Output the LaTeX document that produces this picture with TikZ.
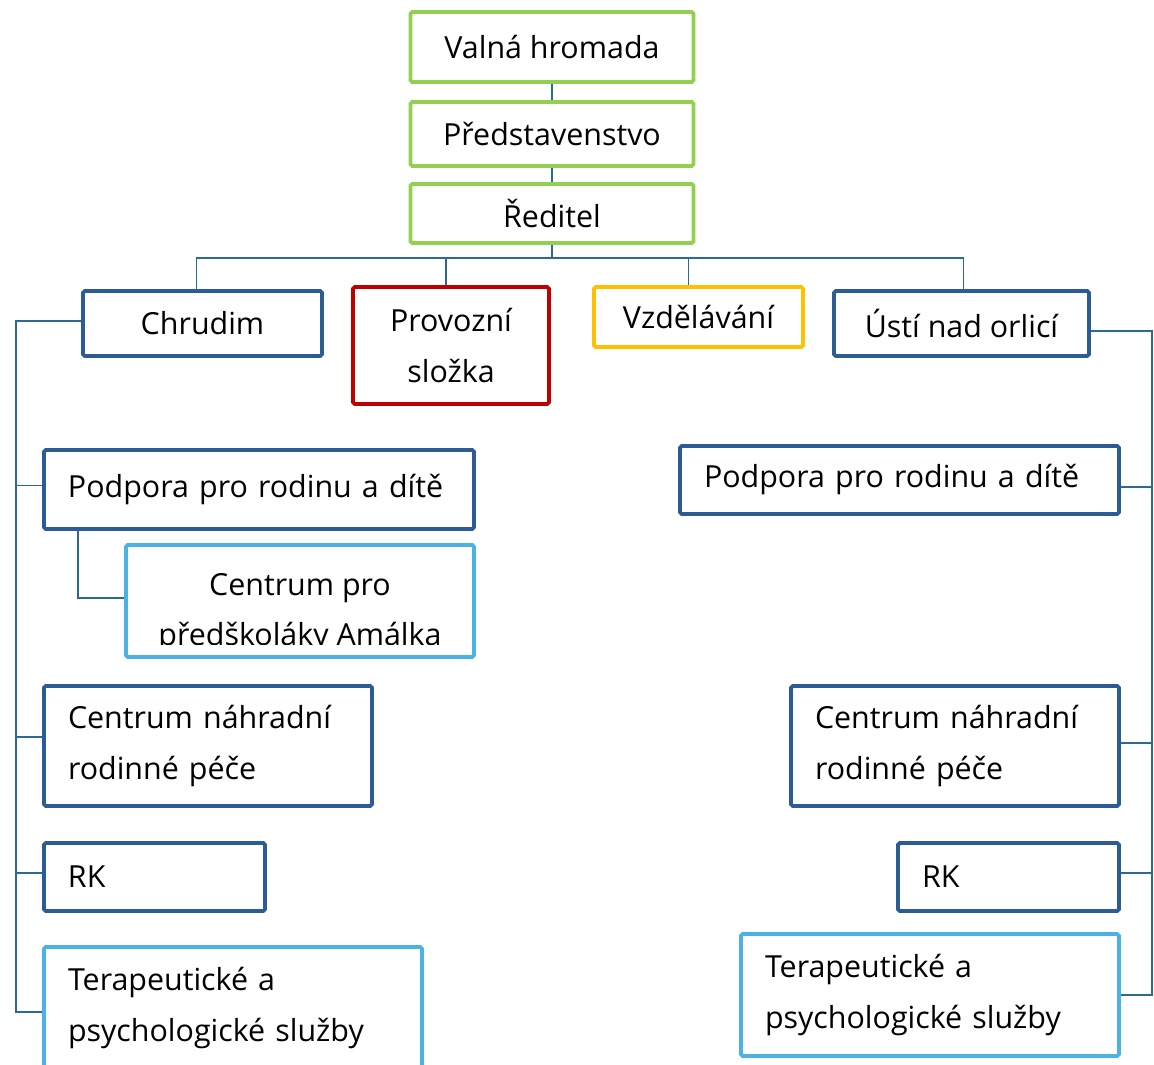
\documentclass[tikz,border=0pt]{standalone}
\usepackage{fontspec}
\setmainfont{Open Sans}
\usetikzlibrary{positioning}
\definecolor{grnline}{HTML}{92D050}
\definecolor{dkblue}{HTML}{2B5C96}
\definecolor{ltblue}{HTML}{4BB2E4}
\definecolor{redline}{HTML}{C00000}
\definecolor{yelline}{HTML}{FFC000}
\definecolor{linkblue}{HTML}{2A6A94}

\begin{document}
\begin{tikzpicture}[
      /tikz/font=\fontsize{17.3}{28.5}\selectfont,
      box/.style={draw, rounded corners=1pt, line width=2.2pt, fill=white, align=center, inner sep=0pt},
      topbox/.style={box, draw=grnline, minimum width=5.66cm},
      leftbox/.style={box, align=left, inner xsep=0.48cm},
      link/.style={draw=linkblue, line width=0.85pt},
    ]
    \useasboundingbox (0,0) rectangle (23.08,-21.30);

    % top of the organisation
    \node[topbox, minimum height=1.40cm] (valna) at (11.04,-0.94) {Valná hromada};
    \node[topbox, minimum height=1.28cm] (pred) at (11.04,-2.68) {Představenstvo};
    \node[topbox, minimum height=1.18cm] (reditel) at (11.04,-4.27) {Ředitel};

    % units
    \node[box, draw=dkblue, minimum width=4.78cm, minimum height=1.30cm] (chrudim) at (4.05,-6.47) {Chrudim};
    \node[box, draw=redline, minimum width=3.92cm, minimum height=2.34cm] (provoz) at (9.02,-6.91) {Provozní\\složka};
    \node[box, draw=yelline, minimum width=4.18cm, minimum height=1.20cm] (vzdel) at (13.97,-6.34) {Vzdělávání};
    \node[box, draw=dkblue, minimum width=5.10cm, minimum height=1.30cm] (usti) at (19.23,-6.47) {Ústí nad orlicí};

    % Chrudim
    \node[leftbox, draw=dkblue, text width=7.64cm, minimum height=1.58cm] (podporaL) at (5.18,-9.79) {Podpora pro rodinu a dítě};
    \node[box, draw=ltblue, minimum width=6.96cm, minimum height=2.24cm,
      path picture={
        \clip ([yshift=0.26cm]path picture bounding box.south west) rectangle (path picture bounding box.north east);
        \node[align=center] (amalkatext) at ([yshift=-0.24cm]path picture bounding box.center) {Centrum pro\\předškoláky Amálka};
      }] (amalka) at (6.00,-12.02) {};
    \node[leftbox, draw=dkblue, text width=5.60cm, minimum height=2.40cm] (nrpL) at (4.16,-14.92) {Centrum náhradní\\rodinné péče};
    \node[leftbox, draw=dkblue, text width=3.46cm, minimum height=1.36cm] (rkL) at (3.09,-17.54) {RK};
    \node[leftbox, draw=ltblue, text width=6.60cm, minimum height=2.44cm] (terL) at (4.66,-20.16) {Terapeutické a\\psychologické služby};

    % Usti nad orlici
    \node[leftbox, draw=dkblue, text width=7.82cm, minimum height=1.36cm] (podporaR) at (17.99,-9.60) {Podpora pro rodinu a dítě};
    \node[leftbox, draw=dkblue, text width=5.60cm, minimum height=2.40cm] (nrpR) at (19.10,-14.92) {Centrum náhradní\\rodinné péče};
    \node[leftbox, draw=dkblue, text width=3.46cm, minimum height=1.36cm] (rkR) at (20.17,-17.54) {RK};
    \node[leftbox, draw=ltblue, text width=6.60cm, minimum height=2.44cm] (terR) at (18.60,-19.90) {Terapeutické a\\psychologické služby};

    % links
    \coordinate (bus) at (0,-5.16);
    \coordinate (lrail) at (0.32,0);
    \coordinate (rrail) at (23.04,0);
    \draw[link] (valna) -- (pred);
    \draw[link] (pred) -- (reditel);
    \draw[link] (reditel.south) -- (reditel.south |- bus);
    \draw[link] ([xshift=-0.12cm]chrudim.north) |- ([xshift=0.04cm]usti.north |- bus) -- ([xshift=0.04cm]usti.north);
    \draw[link] ([xshift=-0.10cm]provoz.north) -- ([xshift=-0.10cm]provoz.north |- bus);
    \draw[link] ([xshift=-0.20cm]vzdel.north) -- ([xshift=-0.20cm]vzdel.north |- bus);

    \draw[link] ([yshift=0.05cm]chrudim.west) -| ([yshift=-0.08cm]lrail |- terL.west) -- ([yshift=-0.08cm]terL.west);
    \draw[link] ([yshift=0.08cm]podporaL.west) -- ([yshift=0.08cm]podporaL.west -| lrail);
    \draw[link] ([yshift=0.18cm]nrpL.west) -- ([yshift=0.18cm]nrpL.west -| lrail);
    \draw[link] ([yshift=0.08cm]rkL.west) -- ([yshift=0.08cm]rkL.west -| lrail);
    \draw[link] ([xshift=0.72cm]podporaL.south west) |- ([yshift=0.06cm]amalka.west);

    \draw[link] ([yshift=-0.15cm]usti.east) -| (rrail |- terR.east) -- (terR.east);
    \draw[link] ([yshift=-0.14cm]podporaR.east) -- ([yshift=-0.14cm]podporaR.east -| rrail);
    \draw[link] ([yshift=0.06cm]nrpR.east) -- ([yshift=0.06cm]nrpR.east -| rrail);
    \draw[link] ([yshift=0.08cm]rkR.east) -- ([yshift=0.08cm]rkR.east -| rrail);
  \end{tikzpicture}
\end{document}
